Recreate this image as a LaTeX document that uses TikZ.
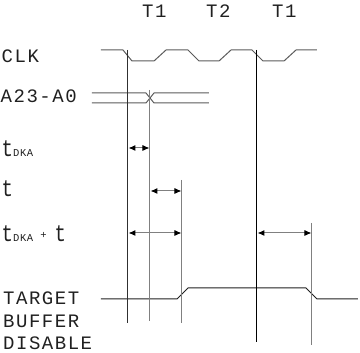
\documentclass[tikz,border=0pt]{standalone}
\usepackage{fontspec}
\usetikzlibrary{arrows.meta}
\newfontfamily\monofam{Liberation Mono}[LetterSpace=8]
\newfontfamily\monosub{Liberation Mono}[LetterSpace=6]
\newcommand\lblfont{\monofam\fontsize{19}{19}\selectfont}
\newcommand\subfont{\monosub\fontsize{10.5}{10.5}\selectfont}
\newcommand\tallt{\scalebox{1}[1.25]{t}}
\definecolor{txt}{HTML}{202020}
\definecolor{wave}{HTML}{5A5A5A}
\definecolor{dark}{HTML}{303030}
\definecolor{mid}{HTML}{808080}
\begin{document}
\begin{tikzpicture}[x=1pt,y=-1pt,
  sig/.style={line width=1pt, line join=miter},
  vline/.style={line width=1pt},
  dim/.style={line width=1pt, draw=mid, {Latex[length=7pt,width=6pt,black]}-{Latex[length=7pt,width=6pt,black]}},
  lbl/.style={inner sep=0pt, anchor=base west, font=\lblfont, text=txt}]
\useasboundingbox (0,0) rectangle (360,353);
% labels
\node[lbl] (t1a) at (142,18) {T1};
\node[lbl] (t2) at (206,18) {T2};
\node[lbl] (t1b) at (272,18) {T1};
\node[lbl] (clk) at (1.5,63) {CLK};
\node[lbl] (addr) at (0.5,103) {A23-A0};
\node[lbl] (tdka) at (1.5,157) {\tallt\hspace{0pt}{\subfont DKA}};
\node[lbl] (tt) at (1.5,197) {\tallt};
\node[lbl] (tsum) at (1.5,242) {\tallt\hspace{0pt}{\subfont DKA}\hspace{7pt}{\subfont\raisebox{3pt}{+}}\hspace{8pt}\tallt};
\node[lbl] (tbd1) at (3,305) {TARGET};
\node[lbl] (tbd2) at (3,328) {BUFFER};
\node[lbl] (tbd3) at (3,350) {DISABLE};
% CLK waveform
\draw[sig, wave] (101,50) -- (123,50) -- (132,61) -- (154,61) -- (166,50) -- (188,50)
  -- (199,61) -- (219,61) -- (231,50) -- (252,50) -- (263,61) -- (284,61) -- (296,50) -- (317,50);
% A23-A0 bus
\draw[sig, wave] (92,93) -- (146,93) -- (154,103) -- (209,103);
\draw[sig, wave] (92,103) -- (146,103) -- (154,93) -- (209,93);
% TARGET BUFFER DISABLE
\draw[sig, txt] (101,299) -- (177,299) -- (188,288) -- (306,288) -- (317,299) -- (358,299);
% vertical reference lines
\coordinate (v1t) at (128,50);  \coordinate (v1b) at (128,323);
\coordinate (v2t) at (150,90);  \coordinate (v2b) at (150,321);
\coordinate (v3t) at (182,180); \coordinate (v3b) at (182,323);
\coordinate (v4t) at (257,50);  \coordinate (v4b) at (257,342);
\coordinate (v5t) at (312,223); \coordinate (v5b) at (312,345);
\draw[vline, dark] (v1t) -- (v1b);
\draw[vline, mid] (v2t) -- (v2b);
\draw[vline, mid] (v3t) -- (v3b);
\draw[vline, black] (v4t) -- (v4b);
\draw[vline, mid] (v5t) -- (v5b);
% dimension arrows
\coordinate (a1l) at (128.5,148); \coordinate (a1r) at (149.5,148);
\coordinate (a2l) at (150.5,191); \coordinate (a2r) at (181.5,191);
\coordinate (a3l) at (128.5,233); \coordinate (a3r) at (181.5,233);
\coordinate (a4l) at (257.5,233); \coordinate (a4r) at (311.5,233);
\draw[dim] (a1l) -- (a1r);
\draw[dim] (a2l) -- (a2r);
\draw[dim] (a3l) -- (a3r);
\draw[dim] (a4l) -- (a4r);
\end{tikzpicture}
\end{document}
